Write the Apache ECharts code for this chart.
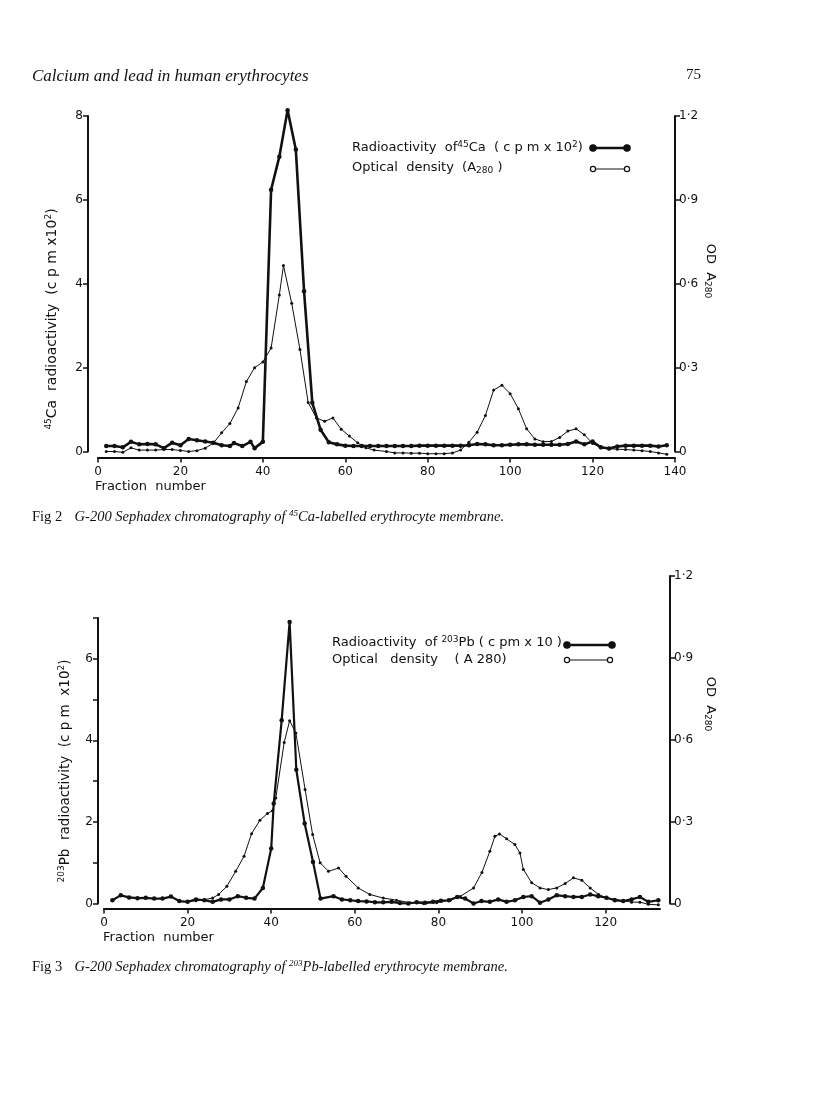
<!DOCTYPE html>
<html><head><meta charset="utf-8">
<script src="https://cdn.jsdelivr.net/npm/echarts@6/dist/echarts.min.js"></script>
<style>html,body{margin:0;padding:0;background:#fff}#c{width:816px;height:1110px}</style>
</head><body><div id="c"></div>
<script>
// ---------- Fig 2 : 45Ca ----------
const caFraction = [2,4,6,8,10,12,14,16,18,20,22,24,26,28,30,32,33,35,37,38,40,42,44,46,48,50,52,54,56,58,60,62,64,66,68,70,72,74,76,78,80,82,84,86,88,90,92,94,96,98,100,102,104,106,108,110,112,114,116,118,120,122,124,126,128,130,132,134,136,138];
const caCounts   = [0.13,0.13,0.10,0.23,0.17,0.18,0.17,0.08,0.21,0.15,0.30,0.27,0.24,0.21,0.15,0.13,0.20,0.13,0.23,0.08,0.23,6.24,7.03,8.14,7.20,3.82,1.16,0.52,0.22,0.17,0.14,0.13,0.13,0.13,0.13,0.13,0.13,0.13,0.13,0.14,0.14,0.14,0.14,0.14,0.14,0.15,0.18,0.17,0.15,0.15,0.16,0.17,0.17,0.16,0.16,0.16,0.16,0.18,0.24,0.17,0.24,0.10,0.07,0.12,0.14,0.14,0.14,0.14,0.12,0.15];
const od1Fraction = [2,4,6,8,10,12,14,16,18,20,22,24,26,28,30,32,34,36,38,40,42,44,45,47,49,51,53,55,57,59,61,63,65,67,70,72,74,76,78,80,82,84,86,88,90,92,94,96,98,100,102,104,106,108,110,112,114,116,118,120,122,124,126,128,130,132,134,136,138];
const od1Values   = [0.0,0.0,-0.003,0.013,0.005,0.005,0.005,0.007,0.007,0.004,0.0,0.003,0.012,0.03,0.067,0.10,0.156,0.25,0.30,0.32,0.37,0.56,0.665,0.53,0.365,0.175,0.12,0.108,0.12,0.08,0.055,0.031,0.013,0.005,0.0,-0.005,-0.005,-0.006,-0.006,-0.008,-0.008,-0.008,-0.005,0.005,0.033,0.069,0.129,0.22,0.237,0.207,0.153,0.081,0.045,0.035,0.036,0.05,0.073,0.081,0.06,0.029,0.013,0.01,0.008,0.007,0.005,0.003,0.0,-0.005,-0.01];
const x1Ticks = [0,20,40,60,80,100,120,140];
const y1LeftTicks = [0,2,4,6,8];
const odTicks = [0,0.3,0.6,0.9,1.2];

// ---------- Fig 3 : 203Pb ----------
const pbFraction = [2,4,6,8,10,12,14,16,18,20,22,24,26,28,30,32,34,36,38,40,40.6,42.5,44.4,46,48,50,51.8,54.9,56.9,58.9,60.8,62.8,64.8,66.8,68.8,70.8,72.8,74.8,76.8,78.7,80.6,82.5,84.5,86.4,88.4,90.3,92.3,94.3,96.3,98.3,100.3,102.3,104.3,106.3,108.3,110.3,112.3,114.3,116.3,118.2,120.2,122.2,124.2,126.2,128.2,130.2,132.6];
const pbCounts   = [0.08,0.20,0.15,0.13,0.14,0.12,0.12,0.17,0.06,0.04,0.10,0.08,0.04,0.10,0.10,0.18,0.14,0.12,0.38,1.35,2.45,4.49,6.90,3.28,1.96,1.02,0.12,0.18,0.10,0.08,0.06,0.05,0.03,0.03,0.04,0.01,0.0,0.03,0.02,0.04,0.07,0.08,0.16,0.12,0.0,0.06,0.04,0.10,0.04,0.08,0.16,0.18,0.02,0.10,0.20,0.18,0.16,0.16,0.22,0.18,0.14,0.08,0.06,0.10,0.16,0.04,0.08];
const od2Fraction = [20,22,24,26,27.4,29.4,31.5,33.5,35.3,37.3,39.1,40.3,41.1,43.1,44.4,45.9,48.1,49.9,51.7,53.7,56.1,57.9,60.8,63.6,66.8,70,73.2,76.4,79.6,82.8,85.2,88.4,90.4,92.3,93.5,94.6,96.3,98.3,99.5,100.3,102.3,104.3,106.3,108.3,110.3,112.3,114.3,116.3,118.3,120.3,122.2,124.2,126.2,128.2,130.2,132.6];
const od2Values   = [0.008,0.01,0.014,0.02,0.033,0.063,0.118,0.173,0.256,0.305,0.33,0.34,0.387,0.59,0.67,0.625,0.418,0.253,0.149,0.118,0.13,0.10,0.057,0.033,0.02,0.012,0.003,0.0,0.003,0.012,0.026,0.057,0.114,0.191,0.246,0.255,0.237,0.216,0.185,0.125,0.076,0.057,0.051,0.057,0.073,0.094,0.085,0.057,0.033,0.02,0.016,0.01,0.005,0.005,-0.003,-0.005];
const x2Ticks = [0,20,40,60,80,100,120];
const y2LeftTicks = [0,1,2,3,4,5,6,7];
const y2LeftLabels = [0,2,4,6];

const zip = (xs, ys) => xs.map((x, i) => [x, ys[i]]);
const INK = '#111';
const SANS = '"DejaVu Sans", sans-serif';
const SERIF = '"Liberation Serif", serif';
const odFmt = v => (Math.abs(v) < 1e-9 ? '0' : v.toFixed(1).replace('.', '\u00b7'));

const axisCommon = {
  axisLine: {show: true, onZero: false, lineStyle: {color: INK, width: 2}},
  axisTick: {show: true, length: 5, lineStyle: {color: INK, width: 1.5}},
  axisLabel: {color: INK, fontFamily: SANS, fontSize: 12},
  splitLine: {show: false}
};
const rich = {
  sup: {fontSize: 9, fontFamily: SANS, fill: INK, verticalAlign: 'top', padding: [0,0,6,0]},
  sub: {fontSize: 9, fontFamily: SANS, fill: INK, verticalAlign: 'bottom', padding: [6,0,0,0]}
};
function txt(x, y, text, opts) {
  opts = opts || {};
  return {type: 'text', x: x, y: y, rotation: opts.rotation || 0, silent: true,
    style: Object.assign({text: text, fill: INK, fontFamily: SANS, fontSize: 13,
      align: opts.align || 'left', verticalAlign: 'middle', rich: rich}, opts.style || {})};
}
function legendLine(x1, x2, y, filled, w) {
  const els = [{type: 'line', shape: {x1: x1, y1: y, x2: x2, y2: y}, style: {stroke: INK, lineWidth: w}}];
  [x1, x2].forEach(x => els.push({type: 'circle', shape: {cx: x, cy: y, r: filled ? 3.2 : 2.6},
    style: {fill: filled ? INK : '#fff', stroke: INK, lineWidth: 1.2}}));
  return els;
}
const capRich = {
  r: {fontFamily: SERIF, fontSize: 14.5, fill: INK},
  i: {fontFamily: SERIF, fontStyle: 'italic', fontSize: 14.5, fill: INK},
  is: {fontFamily: SERIF, fontStyle: 'italic', fontSize: 9, fill: INK, verticalAlign: 'top', padding: [0,0,6,0]}
};

const chart = echarts.init(document.getElementById('c'), null, {renderer: 'canvas'});
chart.setOption({
  backgroundColor: '#fff',
  animation: false,
  grid: [
    {left: 98, top: 116, width: 577, height: 335.5},
    {left: 104, top: 576, width: 556, height: 327.5},
    {left: 104, top: 618, width: 556, height: 285.5}
  ],
  xAxis: [
    Object.assign({}, axisCommon, {gridIndex: 0, type: 'value', min: 0, max: 140, interval: 20, offset: 6,
      axisTick: Object.assign({}, axisCommon.axisTick, {customValues: x1Ticks}),
      axisLabel: Object.assign({}, axisCommon.axisLabel, {customValues: x1Ticks, margin: 8})}),
    Object.assign({}, axisCommon, {gridIndex: 1, type: 'value', min: 0, max: 133, interval: 20, offset: 5,
      axisTick: Object.assign({}, axisCommon.axisTick, {customValues: x2Ticks}),
      axisLabel: Object.assign({}, axisCommon.axisLabel, {customValues: x2Ticks, margin: 8})}),
    {gridIndex: 2, type: 'value', min: 0, max: 133, show: false}
  ],
  yAxis: [
    Object.assign({}, axisCommon, {gridIndex: 0, type: 'value', position: 'left', min: 0, max: 8, interval: 2, offset: 10,
      axisTick: Object.assign({}, axisCommon.axisTick, {customValues: y1LeftTicks}),
      axisLabel: Object.assign({}, axisCommon.axisLabel, {customValues: y1LeftTicks, margin: 5})}),
    Object.assign({}, axisCommon, {gridIndex: 0, type: 'value', position: 'right', min: 0, max: 1.2, interval: 0.3, offset: 0,
      axisTick: Object.assign({}, axisCommon.axisTick, {customValues: odTicks}),
      axisLabel: Object.assign({}, axisCommon.axisLabel, {customValues: odTicks, formatter: odFmt, margin: 4})}),
    Object.assign({}, axisCommon, {gridIndex: 1, type: 'value', position: 'right', min: 0, max: 1.2, interval: 0.3, offset: 10,
      axisTick: Object.assign({}, axisCommon.axisTick, {customValues: odTicks}),
      axisLabel: Object.assign({}, axisCommon.axisLabel, {customValues: odTicks, formatter: odFmt, margin: 4})}),
    Object.assign({}, axisCommon, {gridIndex: 2, type: 'value', position: 'left', min: 0, max: 7, interval: 1, offset: 6,
      axisTick: Object.assign({}, axisCommon.axisTick, {customValues: y2LeftTicks}),
      axisLabel: Object.assign({}, axisCommon.axisLabel, {customValues: y2LeftLabels, margin: 5})})
  ],
  series: [
    {name: 'Ca', type: 'line', xAxisIndex: 0, yAxisIndex: 0, data: zip(caFraction, caCounts), clip: false,
      lineStyle: {color: INK, width: 2.6}, symbol: 'circle', symbolSize: 4.5, itemStyle: {color: INK}, z: 3},
    {name: 'OD1', type: 'line', xAxisIndex: 0, yAxisIndex: 1, data: zip(od1Fraction, od1Values), clip: false,
      lineStyle: {color: INK, width: 1}, symbol: 'circle', symbolSize: 3, itemStyle: {color: INK}, z: 2},
    {name: 'Pb', type: 'line', xAxisIndex: 2, yAxisIndex: 3, data: zip(pbFraction, pbCounts), clip: false,
      lineStyle: {color: INK, width: 2.2}, symbol: 'circle', symbolSize: 4.5, itemStyle: {color: INK}, z: 3},
    {name: 'OD2', type: 'line', xAxisIndex: 1, yAxisIndex: 2, data: zip(od2Fraction, od2Values), clip: false,
      lineStyle: {color: INK, width: 1}, symbol: 'circle', symbolSize: 3, itemStyle: {color: INK}, z: 2}
  ],
  graphic: [].concat(
    [
      txt(32, 77, 'Calcium and lead in human erythrocytes', {style: {fontFamily: SERIF, fontStyle: 'italic', fontSize: 17}}),
      txt(701, 75, '75', {align: 'right', style: {fontFamily: SERIF, fontSize: 15}}),
      // Fig 2 texts
      txt(52, 319, '{sup|45}Ca  radioactivity  (c p m x10{sup|2})', {align: 'center', rotation: Math.PI / 2, style: {fontSize: 14}}),
      txt(710, 271, 'OD  A{sub|280}', {align: 'center', rotation: -Math.PI / 2}),
      txt(352, 148, 'Radioactivity  of{sup|45}Ca  ( c p m x 10{sup|2})'),
      txt(352, 168, 'Optical  density  (A{sub|280} )'),
      txt(95, 487, 'Fraction  number'),
      txt(32, 517, '{r|Fig 2}   {i|G-200 Sephadex chromatography of }{is|45}{i|Ca-labelled erythrocyte membrane.}',
        {style: {rich: capRich}}),
      // Fig 3 texts
      txt(65, 771, '{sup|203}Pb  radioactivity  (c p m  x10{sup|2})', {align: 'center', rotation: Math.PI / 2, style: {fontSize: 13.5}}),
      txt(710, 704, 'OD  A{sub|280}', {align: 'center', rotation: -Math.PI / 2}),
      txt(332, 643, 'Radioactivity  of {sup|203}Pb ( c pm x 10 )'),
      txt(332, 660, 'Optical   density    ( A 280)'),
      txt(103, 938, 'Fraction  number'),
      txt(32, 967, '{r|Fig 3}   {i|G-200 Sephadex chromatography of }{is|203}{i|Pb-labelled erythrocyte membrane.}',
        {style: {rich: capRich}})
    ],
    legendLine(593, 627, 148, true, 2.5),
    legendLine(593, 627, 169, false, 1),
    legendLine(567, 612, 645, true, 2.5),
    legendLine(567, 610, 660, false, 1)
  )
});
</script>
</body></html>
